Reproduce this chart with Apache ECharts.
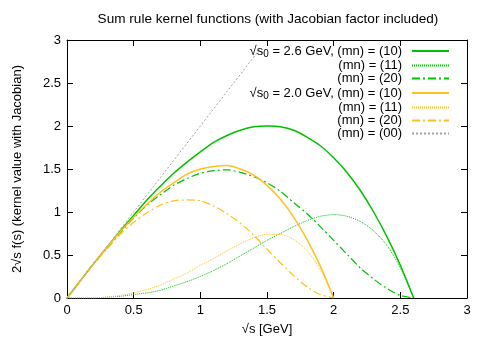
<!DOCTYPE html>
<html>
<head>
<meta charset="utf-8">
<script src="https://cdn.jsdelivr.net/npm/echarts@6/dist/echarts.min.js"></script>
<style>
  html, body { margin: 0; padding: 0; background: #fff; }
  #chart { width: 491px; height: 343px; }
</style>
</head>
<body>
<div id="chart"></div>
<script>
// sample points of sqrt(s) [GeV]
var xs26 = [0, 0.1, 0.2, 0.3, 0.4, 0.5, 0.6, 0.7, 0.8, 0.9, 1.0, 1.1, 1.2, 1.3,
            1.4, 1.5, 1.6, 1.7, 1.8, 1.9, 2.0, 2.1, 2.2, 2.3, 2.4, 2.5, 2.6];
var xs20 = [0, 0.1, 0.2, 0.3, 0.4, 0.5, 0.6, 0.7, 0.8, 0.9, 1.0, 1.1, 1.2, 1.3,
            1.4, 1.5, 1.6, 1.7, 1.8, 1.9, 2.0];
var xs00 = [0, 1.45];

// sqrt(s0) = 2.6 GeV
var k26_10 = [0, 0.20, 0.40, 0.59, 0.78, 0.96, 1.14, 1.30, 1.45, 1.58, 1.70, 1.81, 1.89, 1.95,
              1.99, 2.00, 1.99, 1.95, 1.87, 1.77, 1.63, 1.46, 1.25, 1.00, 0.71, 0.38, 0];
var k26_11 = [0, 0.00, 0.00, 0.01, 0.02, 0.04, 0.06, 0.09, 0.14, 0.19, 0.25, 0.32, 0.40, 0.49,
              0.58, 0.67, 0.75, 0.83, 0.90, 0.95, 0.97, 0.95, 0.89, 0.78, 0.61, 0.35, 0];
var k26_20 = [0, 0.20, 0.40, 0.58, 0.76, 0.93, 1.08, 1.20, 1.31, 1.39, 1.45, 1.48, 1.49, 1.46,
              1.41, 1.34, 1.24, 1.11, 0.98, 0.83, 0.67, 0.51, 0.35, 0.22, 0.11, 0.03, 0];
// sqrt(s0) = 2.0 GeV
var k20_10 = [0, 0.20, 0.40, 0.59, 0.77, 0.94, 1.09, 1.23, 1.34, 1.44, 1.50, 1.53, 1.54, 1.50,
              1.43, 1.31, 1.15, 0.94, 0.68, 0.37, 0];
var k20_11 = [0, 0.00, 0.00, 0.01, 0.03, 0.06, 0.10, 0.15, 0.22, 0.29, 0.38, 0.46, 0.55, 0.63,
              0.70, 0.74, 0.74, 0.68, 0.55, 0.33, 0];
var k20_20 = [0, 0.20, 0.39, 0.57, 0.74, 0.88, 0.99, 1.08, 1.13, 1.14, 1.13, 1.07, 0.98, 0.87,
              0.73, 0.57, 0.41, 0.26, 0.13, 0.04, 0];
var k00 = [0, 2.9];

var legendLabels = {
  a10: '{t|√s}{sub|0}{t| = 2.6 GeV, (mn) = (10)}',
  a11: '{t|(mn) = (11)}',
  a20: '{t|(mn) = (20)}',
  b10: '{t|√s}{sub|0}{t| = 2.0 GeV, (mn) = (10)}',
  b11: '{t|(mn) = (11)}',
  b20: '{t|(mn) = (20)}',
  c00: '{t|(mn) = (00)}'
};

var xTicks = [0, 0.5, 1, 1.5, 2, 2.5, 3];

function pairs(xs, ys) {
  return xs.map(function (x, i) { return [x, ys[i]]; });
}

var green = '#00c000';
var gold = '#ffc020';
var font = 'Liberation Sans, Arial, sans-serif';

function line(name, xs, ys, color, width, type) {
  return {
    name: name,
    type: 'line',
    data: pairs(xs, ys),
    smooth: 0.3,
    symbol: 'none',
    lineStyle: { color: color, width: width, type: type },
    itemStyle: { color: color }
  };
}

var axisBase = {
  type: 'value', min: 0, max: 3, interval: 0.5,
  axisLine: { show: true, onZero: false, lineStyle: { color: '#000', width: 1 } },
  axisTick: { show: true, inside: true, length: 6, lineStyle: { color: '#000' } },
  splitLine: { show: false }
};

var option = {
  animation: false,
  backgroundColor: '#fff',
  textStyle: { fontFamily: font },
  title: {
    text: 'Sum rule kernel functions (with Jacobian factor included)',
    left: 263, textAlign: 'center', top: 7,
    textStyle: { fontSize: 13.6, fontWeight: 'normal', color: '#000', fontFamily: font }
  },
  grid: { left: 67, right: 24, top: 40, bottom: 45 },
  legend: {
    orient: 'vertical', align: 'right', right: 36, top: 38,
    itemWidth: 37, itemHeight: 10, itemGap: 0,
    itemStyle: { opacity: 0 },
    data: ['a10', 'a11', 'a20', 'b10', 'b11', 'b20', 'c00'],
    formatter: function (n) { return legendLabels[n]; },
    textStyle: {
      padding: [0, 5, 0, 0],
      rich: {
        t: { fontSize: 13, color: '#000', lineHeight: 13.5, fontFamily: font },
        sub: { fontSize: 10, color: '#000', lineHeight: 13.5, padding: [6, 0, 0, 0], fontFamily: font }
      }
    }
  },
  xAxis: [
    Object.assign({}, axisBase, {
      position: 'bottom',
      name: '√s [GeV]', nameLocation: 'middle', nameGap: 25,
      nameTextStyle: { fontSize: 13, color: '#000' },
      axisLabel: { color: '#000', fontSize: 13, margin: 6,
        formatter: function (v) { return xTicks.indexOf(v) >= 0 ? String(v) : ''; } }
    }),
    Object.assign({}, axisBase, { position: 'top', axisLabel: { show: false } })
  ],
  yAxis: [
    Object.assign({}, axisBase, {
      position: 'left',
      name: '2√s f(s) (kernel value with Jacobian)', nameLocation: 'middle', nameGap: 43,
      nameTextStyle: { fontSize: 13, color: '#000' },
      axisLabel: { color: '#000', fontSize: 13, margin: 6 }
    }),
    Object.assign({}, axisBase, { position: 'right', axisLabel: { show: false } })
  ],
  series: [
    line('a10', xs26, k26_10, green, 1.5, 'solid'),
    line('a11', xs26, k26_11, green, 1, [1, 1]),
    line('a20', xs26, k26_20, green, 1.2, [8, 3, 2, 3]),
    line('b10', xs20, k20_10, gold, 1.5, 'solid'),
    line('b11', xs20, k20_11, gold, 1, [1, 1]),
    line('b20', xs20, k20_20, gold, 1.2, [8, 3, 2, 3]),
    line('c00', xs00, k00, '#a0a0a0', 1, [2, 2])
  ]
};

var chart = echarts.init(document.getElementById('chart'));
chart.setOption(option);
</script>
</body>
</html>
